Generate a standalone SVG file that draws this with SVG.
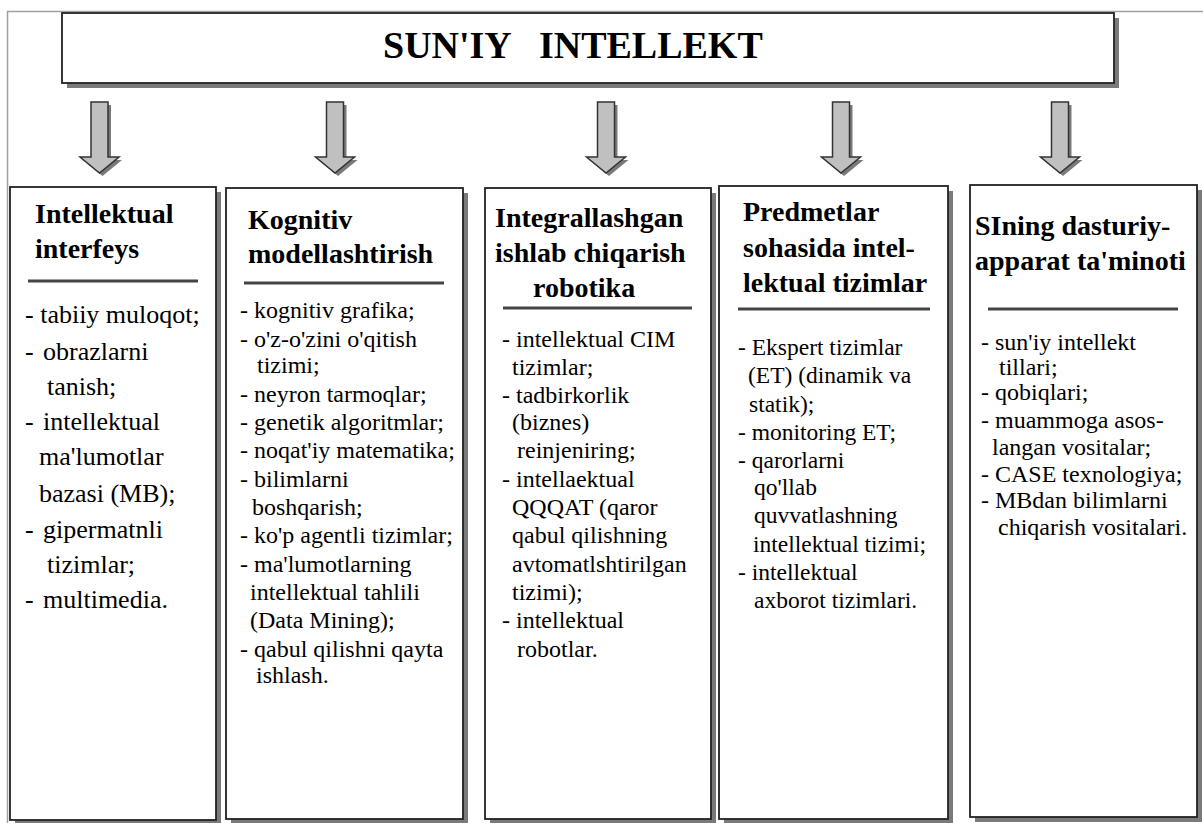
<svg xmlns="http://www.w3.org/2000/svg" width="1203" height="823" viewBox="0 0 1203 823">
<style>
.frame{fill:none;stroke:#a0a0a0;stroke-width:1.5}
.box{fill:#fff;stroke:#222;stroke-width:1.8}
.shadow{fill:#7a7a7a}
text{font-family:'Liberation Serif','DejaVu Serif',serif;fill:#000}
.title{font-weight:bold;font-size:38px;white-space:pre}
.hd{font-weight:bold;font-size:28px}
.sep{stroke:#444;stroke-width:3}
.b1{font-size:26px}
.b{font-size:24px}
.b4{font-size:23.5px}
.arr{fill:#c0c0c0;stroke:#333;stroke-width:1.5}
.arrs{fill:#7a7a7a}
</style>
<defs>
<path id="arrowShape" d="M-8.5,102 L8.5,102 L8.5,157 L19.5,157 L0,173 L-19.5,157 L-8.5,157 Z"/>
</defs>
<rect width="1203" height="823" fill="#fff"/>
<rect class="frame" x="7.5" y="11.5" width="1200" height="820"/>

<g id="title">
<rect class="shadow" x="67" y="18" width="1052" height="70"/>
<rect class="box" x="62" y="13" width="1052" height="70"/>
<text class="title" x="383" y="58">SUN'IY   INTELLEKT</text>
</g>

<g id="connectors">
<use href="#arrowShape" class="arrs" transform="translate(102.5,3)"/>
<use href="#arrowShape" class="arr" transform="translate(99.5,0)"/>
<use href="#arrowShape" class="arrs" transform="translate(338,3)"/>
<use href="#arrowShape" class="arr" transform="translate(335,0)"/>
<use href="#arrowShape" class="arrs" transform="translate(609,3)"/>
<use href="#arrowShape" class="arr" transform="translate(606,0)"/>
<use href="#arrowShape" class="arrs" transform="translate(844,3)"/>
<use href="#arrowShape" class="arr" transform="translate(841,0)"/>
<use href="#arrowShape" class="arrs" transform="translate(1063,3)"/>
<use href="#arrowShape" class="arr" transform="translate(1060,0)"/>
</g>

<g id="box1">
<rect class="shadow" x="15" y="192" width="206" height="633"/>
<rect class="box" x="10" y="187" width="206" height="633"/>
<text class="hd" x="35" y="223">Intellektual</text>
<text class="hd" x="35" y="258">interfeys</text>
<line class="sep" x1="28" y1="281" x2="198" y2="281"/>
<text class="b1" x="25" y="323">- tabiiy muloqot;</text>
<text class="b1" x="25" y="360">-</text><text class="b1" x="43" y="360">obrazlarni</text>
<text class="b1" x="47" y="395">tanish;</text>
<text class="b1" x="25" y="430">-</text><text class="b1" x="43" y="430">intellektual</text>
<text class="b1" x="39" y="465">ma'lumotlar</text>
<text class="b1" x="39" y="502">bazasi (MB);</text>
<text class="b1" x="25" y="538">-</text><text class="b1" x="43" y="538">gipermatnli</text>
<text class="b1" x="47" y="573">tizimlar;</text>
<text class="b1" x="25" y="608">-</text><text class="b1" x="43" y="608">multimedia.</text>
</g>

<g id="box2">
<rect class="shadow" x="231" y="193" width="237" height="631"/>
<rect class="box" x="226" y="188" width="237" height="631"/>
<text class="hd" x="248" y="229">Kognitiv</text>
<text class="hd" x="248" y="263">modellashtirish</text>
<line class="sep" x1="244" y1="283" x2="444" y2="283"/>
<text class="b" x="240" y="318">- kognitiv grafika;</text>
<text class="b" x="240" y="347">- o'z-o'zini o'qitish</text>
<text class="b" x="257" y="373">tizimi;</text>
<text class="b" x="240" y="402">- neyron tarmoqlar;</text>
<text class="b" x="240" y="430">- genetik algoritmlar;</text>
<text class="b" x="240" y="458">- noqat'iy matematika;</text>
<text class="b" x="240" y="487">- bilimlarni</text>
<text class="b" x="252" y="515">boshqarish;</text>
<text class="b" x="240" y="543">- ko'p agentli tizimlar;</text>
<text class="b" x="240" y="572">- ma'lumotlarning</text>
<text class="b" x="250" y="600">intellektual tahlili</text>
<text class="b" x="250" y="628">(Data Mining);</text>
<text class="b" x="240" y="657">- qabul qilishni qayta</text>
<text class="b" x="256" y="683">ishlash.</text>
</g>

<g id="box3">
<rect class="shadow" x="490" y="193" width="226" height="631"/>
<rect class="box" x="485" y="188" width="226" height="631"/>
<text class="hd" x="495" y="227">Integrallashgan</text>
<text class="hd" x="495" y="262">ishlab chiqarish</text>
<text class="hd" x="533" y="297">robotika</text>
<line class="sep" x1="503" y1="308" x2="692" y2="308"/>
<text class="b" x="502" y="347">- intellektual CIM</text>
<text class="b" x="512" y="375">tizimlar;</text>
<text class="b" x="502" y="403">- tadbirkorlik</text>
<text class="b" x="512" y="430">(biznes)</text>
<text class="b" x="517" y="458">reinjeniring;</text>
<text class="b" x="502" y="487">- intellaektual</text>
<text class="b" x="512" y="515">QQQAT (qaror</text>
<text class="b" x="512" y="543">qabul qilishning</text>
<text class="b" x="512" y="572">avtomatlshtirilgan</text>
<text class="b" x="512" y="600">tizimi);</text>
<text class="b" x="502" y="628">- intellektual</text>
<text class="b" x="517" y="657">robotlar.</text>
</g>

<g id="box4">
<rect class="shadow" x="724" y="191" width="229" height="633"/>
<rect class="box" x="719" y="186" width="229" height="633"/>
<text class="hd" x="743" y="221">Predmetlar</text>
<text class="hd" x="743" y="257">sohasida intel-</text>
<text class="hd" x="743" y="292">lektual tizimlar</text>
<line class="sep" x1="738" y1="309" x2="930" y2="309"/>
<text class="b4" x="738" y="355">- Ekspert tizimlar</text>
<text class="b4" x="748" y="383">(ET) (dinamik va</text>
<text class="b4" x="749" y="412">statik);</text>
<text class="b4" x="738" y="440">- monitoring ET;</text>
<text class="b4" x="738" y="468">- qarorlarni</text>
<text class="b4" x="754" y="495">qo'llab</text>
<text class="b4" x="754" y="523">quvvatlashning</text>
<text class="b4" x="753" y="552">intellektual tizimi;</text>
<text class="b4" x="738" y="580">- intellektual</text>
<text class="b4" x="754" y="608">axborot tizimlari.</text>
</g>

<g id="box5">
<rect class="shadow" x="975" y="190" width="227" height="632"/>
<rect class="box" x="970" y="185" width="227" height="632"/>
<text class="hd" x="975" y="235">SIning dasturiy-</text>
<text class="hd" x="975" y="270">apparat ta'minoti</text>
<line class="sep" x1="988" y1="309" x2="1178" y2="309"/>
<text class="b" x="981" y="350">- sun'iy intellekt</text>
<text class="b" x="999" y="375">tillari;</text>
<text class="b" x="981" y="400">- qobiqlari;</text>
<text class="b" x="981" y="428">- muammoga asos-</text>
<text class="b" x="992" y="455">langan vositalar;</text>
<text class="b" x="981" y="482">- CASE texnologiya;</text>
<text class="b" x="981" y="508">- MBdan bilimlarni</text>
<text class="b" x="998" y="535">chiqarish vositalari.</text>
</g>
</svg>
